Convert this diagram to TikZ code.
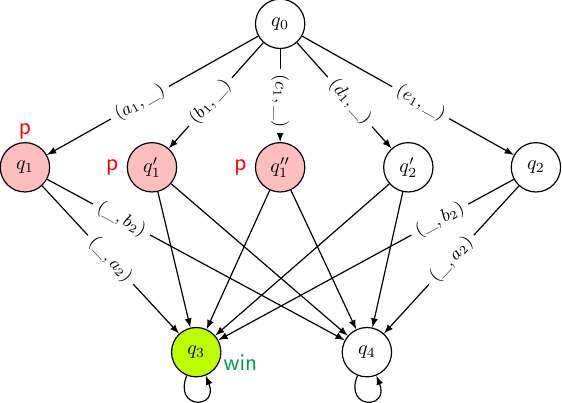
\documentclass[tikz,border=0pt]{standalone}
\usepackage{amsmath}
\usepackage{amssymb}
\usetikzlibrary{arrows,positioning}
\definecolor{losered}{RGB}{255,190,190}
\definecolor{winlime}{RGB}{190,255,0}
\definecolor{wingreen}{RGB}{0,150,85}

\begin{document}
\begin{tikzpicture}[>=latex, line width=0.6pt,
  state/.style={circle, draw, minimum size=0.87cm, inner sep=0pt},
  lose/.style={state, fill=losered},
  goal/.style={state, fill=winlime},
  lab/.style={sloped, fill=white, inner sep=3pt, font=\small},
  pmark/.style={text=red, font=\large\sffamily, inner sep=1pt},
  wmark/.style={text=wingreen, font=\large\sffamily, inner sep=1pt},
  selfloop/.style={out=-112, in=-68, distance=6.5mm}]
%
\useasboundingbox (0,0) rectangle (9.91cm,7.09cm);
%
\node[state] (q0) at (4.94cm,6.67cm) {$q_0$};
\node[lose] (q1) at (0.44cm,4.14cm) {$q_1$};
\node[lose] (q1p) at (2.68cm,4.14cm) {$q_1'$};
\node[lose] (q1pp) at (4.94cm,4.14cm) {$q_1''$};
\node[state] (q2p) at (7.20cm,4.14cm) {$q_2'$};
\node[state] (q2) at (9.45cm,4.14cm) {$q_2$};
\node[goal] (q3) at (3.46cm,0.88cm) {$q_3$};
\node[state] (q4) at (6.47cm,0.88cm) {$q_4$};
%
\node[pmark, above=0pt of q1] (p1) {p};
\node[pmark, left=3pt of q1p] (p1p) {p};
\node[pmark, left=3pt of q1pp] (p1pp) {p};
\node[wmark, right=1pt of q3.-25] (w3) {win};
%
\draw[->] (q0) -- node[lab, pos=.56] {$(a_1,\_)$} (q1);
\draw[->] (q0) -- node[lab, pos=.56] {$(b_1,\_)$} (q1p);
\draw[->] (q0) -- node[lab, pos=.56] {$(c_1,\_)$} (q1pp);
\draw[->] (q0) -- node[lab, pos=.56] {$(d_1,\_)$} (q2p);
\draw[->] (q0) -- node[lab, pos=.56] {$(e_1,\_)$} (q2);
%
\draw[->] (q1) -- node[lab, pos=.5] {$(\_,a_2)$} (q3);
\draw[->] (q1) -- node[lab, pos=.25] {$(\_,b_2)$} (q4);
\draw[->] (q1p) -- (q3);
\draw[->] (q1p) -- (q4);
\draw[->] (q1pp) -- (q3);
\draw[->] (q1pp) -- (q4);
\draw[->] (q2p) -- (q3);
\draw[->] (q2p) -- (q4);
\draw[->] (q2) -- node[lab, pos=.25] {$(\_,b_2)$} (q3);
\draw[->] (q2) -- node[lab, pos=.5] {$(\_,a_2)$} (q4);
%
\draw[->] (q3) to[selfloop] (q3);
\draw[->] (q4) to[selfloop] (q4);
%
\end{tikzpicture}
\end{document}
